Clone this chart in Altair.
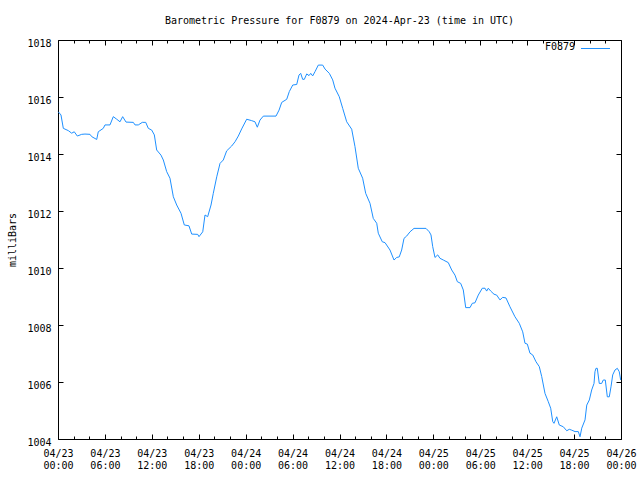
import json
import altair as alt
import pandas as pd

# ---- data (hours since 2024-04-23 00:00 UTC, millibars) ----
hours = [0.04, 0.38, 0.68, 1.32, 1.75, 2.08, 2.47, 3.03, 3.45, 4.09, 4.31, 4.95, 5.15, 5.79,
         6.01, 6.65, 7.07, 7.51, 7.93, 8.27, 8.70, 9.63, 9.85, 10.27, 10.78, 11.22, 11.55,
         11.98, 12.32, 12.62, 13.17, 13.47, 13.90, 14.32, 14.75, 15.18, 15.73, 16.15, 16.75,
         17.10, 17.87, 18.03, 18.51, 18.80, 19.14, 19.57, 19.86, 20.30, 20.72, 21.14, 21.57,
         22.21, 22.64, 23.06, 23.49, 24.13, 24.77, 25.19, 25.49, 25.83, 26.26, 27.88, 28.27,
         28.61, 29.25, 29.58, 30.02, 30.53, 30.82, 31.04, 31.29, 31.50, 31.81, 32.10, 32.32,
         32.57, 32.87, 33.29, 33.85, 34.15, 34.70, 35.13, 35.42, 35.97, 36.41, 36.92, 37.56,
         37.98, 38.40, 38.96, 39.35, 39.90, 40.32, 40.76, 40.96, 41.47, 41.82, 42.46, 42.97,
         43.31, 43.64, 43.95, 44.25, 44.59, 45.02, 45.53, 47.06, 47.48, 47.70, 47.92, 48.21,
         48.56, 48.85, 49.28, 49.91, 50.35, 50.77, 51.07, 51.50, 51.83, 52.14, 52.69, 52.98,
         53.33, 53.75, 54.26, 54.61, 54.82, 55.03, 55.34, 55.76, 56.10, 56.52, 56.87, 57.29,
         57.80, 58.44, 58.99, 59.43, 59.72, 60.02, 60.36, 60.71, 61.13, 61.55, 61.86, 62.28,
         62.70, 63.01, 63.27, 63.43, 63.78, 64.11, 64.62, 65.06, 65.39, 65.70, 66.12, 66.54,
         66.76, 66.98, 67.40, 67.62, 67.95, 68.25, 68.55, 68.67, 68.80, 68.97, 69.22, 69.53,
         69.73, 69.99, 70.25, 70.50, 70.72, 70.94, 71.23, 71.53, 71.78, 71.96]
pressure = [1015.48, 1015.37, 1014.90, 1014.82, 1014.73, 1014.78, 1014.63, 1014.69, 1014.70,
            1014.69, 1014.61, 1014.51, 1014.78, 1014.90, 1015.02, 1015.02, 1015.31, 1015.22,
            1015.13, 1015.31, 1015.12, 1015.11, 1015.02, 1015.02, 1015.11, 1015.11, 1014.90,
            1014.84, 1014.67, 1014.14, 1013.96, 1013.79, 1013.38, 1013.15, 1012.50, 1012.21,
            1011.92, 1011.51, 1011.48, 1011.19, 1011.18, 1011.10, 1011.27, 1011.86, 1011.80,
            1012.21, 1012.62, 1013.20, 1013.67, 1013.79, 1014.11, 1014.28, 1014.43, 1014.63,
            1014.88, 1015.22, 1015.17, 1015.13, 1014.94, 1015.19, 1015.33, 1015.33, 1015.54,
            1015.81, 1015.92, 1016.19, 1016.42, 1016.44, 1016.77, 1016.83, 1016.62, 1016.62,
            1016.81, 1016.75, 1016.83, 1016.74, 1016.89, 1017.12, 1017.12, 1016.98, 1016.83,
            1016.60, 1016.31, 1016.01, 1015.60, 1015.13, 1014.87, 1014.26, 1013.50, 1013.15,
            1012.62, 1012.27, 1011.74, 1011.57, 1011.22, 1010.92, 1010.89, 1010.63, 1010.28,
            1010.37, 1010.39, 1010.63, 1011.04, 1011.12, 1011.27, 1011.39, 1011.39, 1011.27,
            1011.16, 1010.75, 1010.37, 1010.46, 1010.34, 1010.28, 1010.19, 1009.93, 1009.75,
            1009.52, 1009.46, 1009.23, 1008.61, 1008.61, 1008.76, 1008.78, 1009.05, 1009.29,
            1009.29, 1009.19, 1009.29, 1009.19, 1009.08, 1009.05, 1008.88, 1008.97, 1008.95,
            1008.64, 1008.29, 1008.06, 1007.76, 1007.36, 1007.33, 1007.01, 1006.95, 1006.71,
            1006.54, 1006.19, 1005.60, 1005.31, 1005.08, 1004.61, 1004.55, 1004.78, 1004.49,
            1004.43, 1004.29, 1004.34, 1004.31, 1004.26, 1004.26, 1004.08, 1004.38, 1004.67,
            1005.19, 1005.37, 1005.72, 1005.95, 1006.36, 1006.48, 1006.48, 1005.95, 1005.95,
            1006.07, 1006.07, 1005.48, 1005.48, 1005.83, 1006.25, 1006.42, 1006.48, 1006.36,
            1006.07]

tick_hours = [0, 6, 12, 18, 24, 30, 36, 42, 48, 54, 60, 66, 72]
tick_dates = ["04/23", "04/23", "04/23", "04/23", "04/24", "04/24", "04/24", "04/24",
              "04/25", "04/25", "04/25", "04/25", "04/26"]
tick_times = ["00:00", "06:00", "12:00", "18:00", "00:00", "06:00", "12:00", "18:00",
              "00:00", "06:00", "12:00", "18:00", "00:00"]
minor_hours = [2, 4, 8, 10, 14, 16, 20, 22, 26, 28, 32, 34, 38, 40, 44, 46, 50, 52,
               56, 58, 62, 64, 68, 70]
y_ticks = [1004, 1006, 1008, 1010, 1012, 1014, 1016, 1018]

title_text = "Barometric Pressure for F0879 on 2024-Apr-23 (time in UTC)"
series_name = "F0879"
y_title = "milliBars"

FONT = "DejaVu Sans Mono"
LINE_COLOR = "#1e90ff"
W, H = 563, 399

df = pd.DataFrame({"hour": hours, "pressure": pressure})
legend_df = pd.DataFrame({"name": [series_name]})

xs = alt.Scale(domain=[0, 72], nice=False, zero=False)
ys = alt.Scale(domain=[1004, 1018], nice=False, zero=False)

label_lookup = json.dumps([[d, t] for d, t in zip(tick_dates, tick_times)])
label_expr = f"{label_lookup}[round(datum.value / 6)]"


def tick_axis(orient, values, size):
    return alt.Axis(orient=orient, values=values, tickSize=size, offset=-size,
                    domain=False, grid=False, labels=False, title=None,
                    tickColor="black", tickWidth=1)


main = alt.Chart(df).mark_line(color=LINE_COLOR, strokeWidth=1).encode(
    x=alt.X("hour:Q", scale=xs,
            axis=alt.Axis(orient="bottom", values=tick_hours, labelExpr=label_expr,
                          tickSize=5, offset=-5, domain=False, grid=False,
                          labelPadding=9, labelLineHeight=12, labelAngle=0,
                          labelFlush=False, labelOverlap=False, title=None,
                          tickColor="black", labelFont=FONT, labelFontSize=10,
                          labelColor="black")),
    y=alt.Y("pressure:Q", scale=ys,
            axis=alt.Axis(orient="left", values=y_ticks, format="d", tickSize=5,
                          offset=-5, domain=False, grid=False, labelPadding=7,
                          labelOffset=3, labelOverlap=False, tickColor="black",
                          labelFont=FONT, labelFontSize=10, labelColor="black",
                          title=y_title, titleX=-51, titleY=H / 2,
                          titleFont=FONT, titleFontSize=10, titleFontWeight="normal",
                          titleColor="black",
                          titleAlign="center", titleBaseline="middle")),
)

ticks_a = alt.Chart(df).mark_line(strokeOpacity=0).encode(
    x=alt.X("hour:Q", scale=xs, axis=tick_axis("bottom", minor_hours, 3)),
    y=alt.Y("pressure:Q", scale=ys, axis=tick_axis("right", y_ticks, 5)),
)
ticks_b = alt.Chart(df).mark_line(strokeOpacity=0).encode(
    x=alt.X("hour:Q", scale=xs, axis=tick_axis("top", tick_hours, 5)),
    y=alt.Y("pressure:Q", scale=ys, axis=None),
)
ticks_c = alt.Chart(df).mark_line(strokeOpacity=0).encode(
    x=alt.X("hour:Q", scale=xs, axis=tick_axis("top", minor_hours, 3)),
    y=alt.Y("pressure:Q", scale=ys, axis=None),
)

leg_text = alt.Chart(legend_df).mark_text(
    align="right", baseline="middle", font=FONT, fontSize=10, color="black"
).encode(x=alt.value(517), y=alt.value(6.5), text="name:N")
leg_rule = alt.Chart(legend_df).mark_rule(color=LINE_COLOR, strokeWidth=1).encode(
    x=alt.value(523), x2=alt.value(552), y=alt.value(8.5)
)

chart = alt.layer(main, ticks_a, ticks_b, ticks_c, leg_text, leg_rule).resolve_scale(
    x="shared", y="shared"
).resolve_axis(
    x="independent", y="independent"
).properties(
    width=W, height=H,
    autosize=alt.AutoSizeParams(type="none"),
    padding={"left": 58, "top": 40, "right": 19, "bottom": 41},
    background="white",
    title=alt.TitleParams(text=title_text, font=FONT, fontSize=10, fontWeight="normal",
                          color="black", anchor="middle", offset=12),
).configure_view(
    stroke="black", strokeWidth=1
)

chart.save("out.html", embed_options={"renderer": "svg", "actions": False})
